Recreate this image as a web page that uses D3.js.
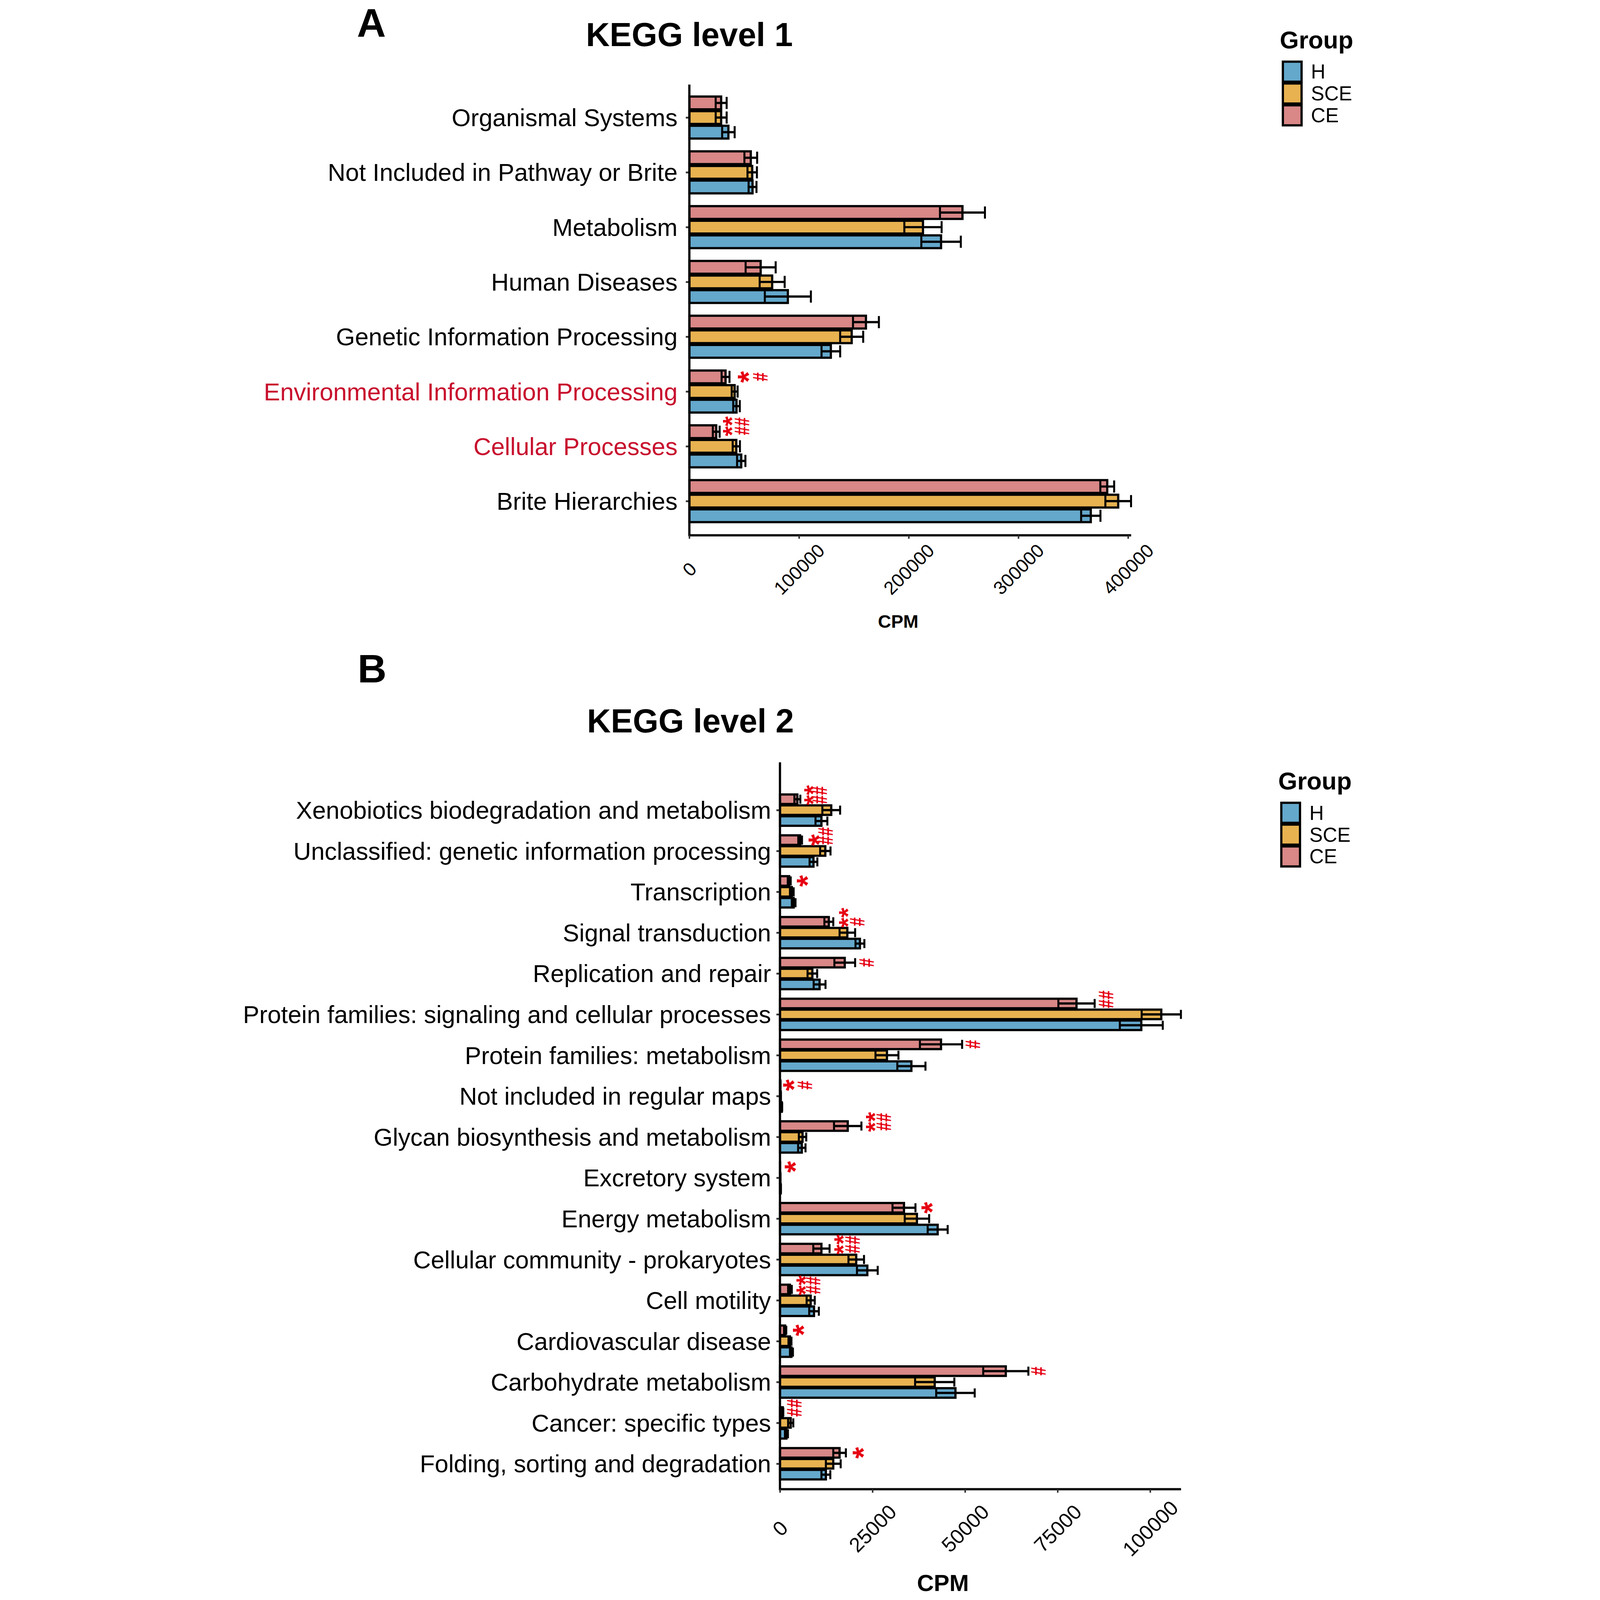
<!DOCTYPE html>
<html lang="en">
<head>
<meta charset="UTF-8">
<title>KEGG level 1 / KEGG level 2</title>
<script src="https://d3js.org/d3.v7.min.js"></script>
<style>
  html, body { margin: 0; padding: 0; background: #fff; overflow: hidden; }
  #chart svg { display: block; width: 100vw; height: 100vh; }
  svg text { font-family: "Liberation Sans", Arial, sans-serif; }
</style>
</head>
<body>
<div id="chart"></div>
<script>
// groups, drawn top to bottom inside each category
const groups = ["CE", "SCE", "H"];
const legendOrder = ["H", "SCE", "CE"];
const groupColors = { H: "#64a8cc", SCE: "#e8b250", CE: "#d98787" };

// ---- KEGG level 1 (CPM) ----
const level1Cats = ["Organismal Systems", "Not Included in Pathway or Brite", "Metabolism",
  "Human Diseases", "Genetic Information Processing", "Environmental Information Processing",
  "Cellular Processes", "Brite Hierarchies"];
const level1CE    = [29000, 56000, 249000, 65000, 161000, 33000, 24500, 381000];
const level1CEsd  = [5000, 5800, 20500, 13700, 11800, 3600, 3100, 6300];
const level1SCE   = [29000, 57300, 213000, 75500, 148000, 41300, 42800, 391000];
const level1SCEsd = [5000, 4300, 17000, 11400, 10500, 2700, 3300, 11700];
const level1H     = [35600, 57600, 229500, 89800, 129000, 43000, 47300, 366000];
const level1Hsd   = [5700, 3600, 18000, 21000, 8500, 3000, 3800, 8800];
const level1Red   = ["Environmental Information Processing", "Cellular Processes"];
const level1Ticks = [0, 100000, 200000, 300000, 400000];
// significance marks: category, text, CPM position
const level1SigCat  = ["Environmental Information Processing", "Environmental Information Processing",
  "Cellular Processes", "Cellular Processes"];
const level1SigText = ["*", "#", "**", "##"];
const level1SigX    = [47500, 64500, 33300, 48000];

// ---- KEGG level 2 (CPM) ----
const level2Cats = ["Xenobiotics biodegradation and metabolism", "Unclassified: genetic information processing",
  "Transcription", "Signal transduction", "Replication and repair",
  "Protein families: signaling and cellular processes", "Protein families: metabolism",
  "Not included in regular maps", "Glycan biosynthesis and metabolism", "Excretory system",
  "Energy metabolism", "Cellular community - prokaryotes", "Cell motility", "Cardiovascular disease",
  "Carbohydrate metabolism", "Cancer: specific types", "Folding, sorting and degradation"];
const level2CE    = [4700, 5450, 2500, 13200, 17500, 80100, 43500, 100, 18300, 50, 33500, 11200, 2700, 1400, 61000, 750, 16100];
const level2CEsd  = [800, 500, 400, 1200, 2800, 4900, 5700, 50, 3700, 20, 3100, 2200, 500, 300, 6100, 150, 1700];
const level2SCE   = [13850, 12250, 3200, 18200, 8750, 103000, 28900, 200, 6100, 100, 37000, 20600, 8300, 2700, 41800, 2900, 14400];
const level2SCEsd = [2400, 1400, 500, 2100, 1300, 5300, 3100, 50, 1000, 30, 3300, 2100, 1100, 400, 5300, 700, 2000];
const level2H     = [11200, 9050, 3700, 21600, 10700, 97600, 35500, 500, 5900, 200, 42600, 23600, 9200, 3100, 47400, 1750, 12400];
const level2Hsd   = [1600, 1050, 500, 1200, 1600, 5800, 3800, 100, 1000, 50, 2700, 2800, 1300, 400, 5200, 400, 1200];
const level2Ticks = [0, 25000, 50000, 75000, 100000];
const level2SigCat  = ["Xenobiotics biodegradation and metabolism", "Xenobiotics biodegradation and metabolism",
  "Unclassified: genetic information processing", "Unclassified: genetic information processing",
  "Transcription", "Signal transduction", "Signal transduction", "Replication and repair",
  "Protein families: signaling and cellular processes", "Protein families: metabolism",
  "Not included in regular maps", "Not included in regular maps",
  "Glycan biosynthesis and metabolism", "Glycan biosynthesis and metabolism", "Excretory system",
  "Energy metabolism", "Cellular community - prokaryotes", "Cellular community - prokaryotes",
  "Cell motility", "Cell motility", "Cardiovascular disease", "Carbohydrate metabolism",
  "Cancer: specific types", "Folding, sorting and degradation"];
const level2SigText = ["**", "##", "*", "##", "*", "**", "#", "#", "##", "#", "*", "#", "**", "##", "*",
  "*", "**", "##", "**", "##", "*", "#", "##", "*"];
const level2SigX    = [7300, 10700, 8700, 12300, 5600, 16700, 20800, 23400, 88000, 52100, 1900, 6700,
  24000, 28000, 2300, 39200, 15400, 19600, 5200, 8900, 4500, 69800, 3800, 20600];

// whole figure lives in a 5000 x 7187 coordinate space, scaled to the window
const svg = d3.select("#chart").append("svg")
    .attr("viewBox", "0 0 5000 7187")
    .attr("preserveAspectRatio", "xMidYMin meet")
    .style("background", "#fff");

function drawPanel(p) {
  const g = svg.append("g");
  const mean = { CE: p.ce, SCE: p.sce, H: p.h };
  const sd = { CE: p.cesd, SCE: p.scesd, H: p.hsd };

  const xMax = d3.max(groups, k => d3.max(mean[k], (m, i) => m + sd[k][i]));
  const x = d3.scaleLinear().domain([0, xMax]).range([p.x0, p.x1]);
  const y = d3.scalePoint().domain(p.cats).range([p.yFirst, p.yLast]);
  const step = y.step();
  const slot = step * 0.8 / 3;   // dodge width 0.8
  const barH = step * 0.7 / 3;   // bar width 0.7

  // bars
  groups.forEach((k, gi) => {
    g.append("g").selectAll("rect")
      .data(p.cats)
      .join("rect")
      .attr("x", x(0))
      .attr("y", c => y(c) + (gi - 1) * slot - barH / 2)
      .attr("width", (c, i) => x(mean[k][i]) - x(0))
      .attr("height", barH)
      .attr("fill", groupColors[k])
      .attr("stroke", "#000")
      .attr("stroke-width", 10);
  });

  // error bars
  groups.forEach((k, gi) => {
    const eb = g.append("g").attr("stroke", "#000");
    p.cats.forEach((c, i) => {
      const cy = y(c) + (gi - 1) * slot;
      const lo = x(mean[k][i] - sd[k][i]), hi = x(mean[k][i] + sd[k][i]);
      const capH = barH * 0.95;
      eb.append("line").attr("x1", lo).attr("x2", hi).attr("y1", cy).attr("y2", cy)
        .attr("stroke-width", 10);
      [lo, hi].forEach(xx => {
        eb.append("line").attr("x1", xx).attr("x2", xx)
          .attr("y1", cy - capH / 2).attr("y2", cy + capH / 2)
          .attr("stroke-width", 9);
      });
    });
  });

  // y axis
  const ya = g.append("g")
      .attr("transform", `translate(${p.x0},0)`)
      .call(d3.axisLeft(y).tickSize(16).tickSizeOuter(0).tickPadding(p.labelPad));
  ya.select(".domain").remove();
  ya.selectAll(".tick line").attr("stroke", "#333").attr("stroke-width", 8);
  ya.selectAll(".tick text")
      .attr("font-size", 110)
      .attr("font-family", "Liberation Sans, Arial, sans-serif")
      .attr("dy", "0.35em")
      .attr("fill", c => (p.red || []).includes(c) ? "#c8102e" : "#000");
  g.append("line")
      .attr("x1", p.x0).attr("x2", p.x0)
      .attr("y1", p.yTop).attr("y2", p.axisY + 5)
      .attr("stroke", "#000").attr("stroke-width", 10);

  // x axis
  const xa = g.append("g")
      .attr("transform", `translate(0,${p.axisY})`)
      .call(d3.axisBottom(x).tickValues(p.ticks).tickSize(16).tickSizeOuter(0).tickFormat(d3.format("d")));
  xa.select(".domain").attr("stroke", "#000").attr("stroke-width", 10);
  xa.selectAll(".tick line").attr("stroke", "#333").attr("stroke-width", 7);
  xa.selectAll(".tick text")
      .attr("y", null)
      .attr("dy", "0.35em")
      .attr("text-anchor", "middle")
      .attr("transform", `translate(0,${p.tickLabelOffset}) rotate(-45)`)
      .attr("font-size", p.tickFont)
      .attr("font-family", "Liberation Sans, Arial, sans-serif")
      .attr("fill", "#000");

  // significance marks (vertical text)
  p.sigCat.forEach((c, i) => {
    const t = p.sigText[i];
    const isHash = t[0] === "#";
    const cy = y(c) - slot + (t.length > 1 ? -0.1 * step : 0);
    g.append("text")
      .attr("transform", `translate(${x(p.sigX[i])},${cy}) rotate(-90)` + (isHash ? " scale(0.8,1.05)" : ""))
      .attr("text-anchor", "middle")
      .attr("dy", isHash ? "0.35em" : "0.58em")
      .attr("font-size", isHash ? 90 : (t.length > 1 ? 115 : 135))
      .attr("font-weight", "bold")
      .attr("fill", "#e60012")
      .text(t);
  });

  // titles
  svg.append("text").attr("x", p.letterX).attr("y", p.letterY)
    .attr("text-anchor", "middle").attr("font-size", 180).attr("font-weight", "bold")
    .text(p.letter);
  svg.append("text").attr("x", p.titleX).attr("y", p.titleY)
    .attr("text-anchor", "middle").attr("font-size", 148).attr("font-weight", "bold")
    .text(p.title);
  svg.append("text").attr("x", p.cpmX).attr("y", p.cpmY)
    .attr("text-anchor", "middle").attr("font-size", p.cpmFont).attr("font-weight", "bold")
    .text("CPM");

  // legend
  const lg = svg.append("g");
  lg.append("text").attr("x", p.legX).attr("y", p.legTitleY)
    .attr("font-size", 110).attr("font-weight", "bold").text("Group");
  legendOrder.forEach((k, i) => {
    const cy = p.legKeyY + i * 98;
    lg.append("rect")
      .attr("x", p.legX + 14).attr("y", cy - 45)
      .attr("width", 84).attr("height", 90)
      .attr("fill", groupColors[k]).attr("stroke", "#000").attr("stroke-width", 10);
    lg.append("text").attr("x", p.legX + 140).attr("y", cy)
      .attr("dy", "0.35em").attr("font-size", 90).text(k);
  });
}

drawPanel({
  cats: level1Cats, ce: level1CE, cesd: level1CEsd, sce: level1SCE, scesd: level1SCEsd,
  h: level1H, hsd: level1Hsd, red: level1Red, ticks: level1Ticks,
  sigCat: level1SigCat, sigText: level1SigText, sigX: level1SigX,
  x0: 2003, x1: 3987, yFirst: 528, yLast: 2251, yTop: 380, axisY: 2404,
  labelPad: 37, tickLabelOffset: 153, tickFont: 84,
  letter: "A", letterX: 575, letterY: 165,
  title: "KEGG level 1", titleX: 2003, titleY: 207,
  cpmX: 2941, cpmY: 2820, cpmFont: 82,
  legX: 4655, legTitleY: 217, legKeyY: 322
});

drawPanel({
  cats: level2Cats, ce: level2CE, cesd: level2CEsd, sce: level2SCE, scesd: level2SCEsd,
  h: level2H, hsd: level2Hsd, red: [], ticks: level2Ticks,
  sigCat: level2SigCat, sigText: level2SigText, sigX: level2SigX,
  x0: 2410, x1: 4211, yFirst: 3639, yLast: 6575, yTop: 3424, axisY: 6689,
  labelPad: 24, tickLabelOffset: 176, tickFont: 92,
  letter: "B", letterX: 578, letterY: 3066,
  title: "KEGG level 2", titleX: 2008, titleY: 3290,
  cpmX: 3142, cpmY: 7147, cpmFont: 105,
  legX: 4648, legTitleY: 3547, legKeyY: 3651
});
</script>
</body>
</html>
